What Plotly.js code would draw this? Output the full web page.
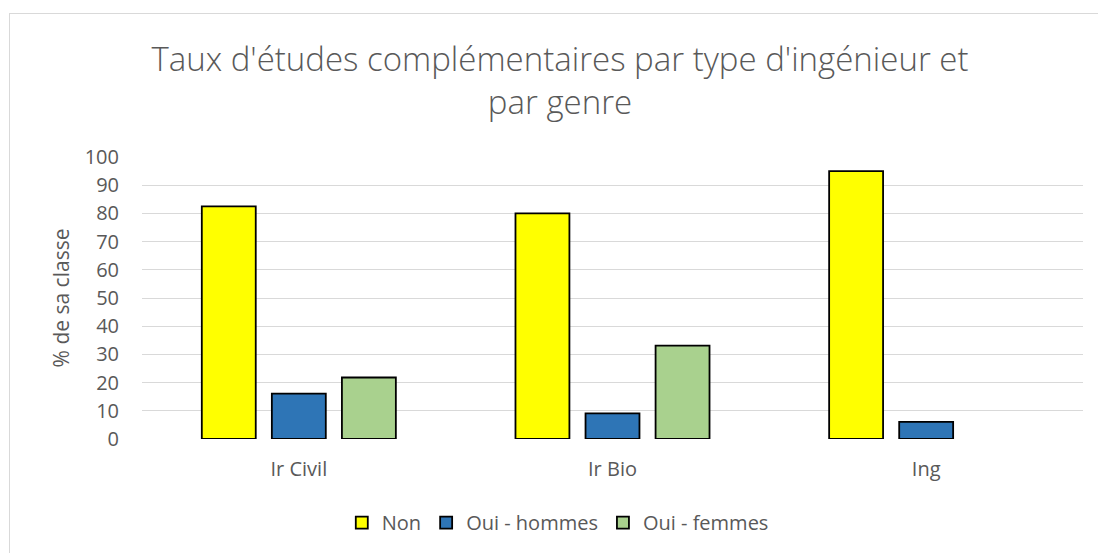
<!DOCTYPE html>
<html>
<head>
<meta charset="utf-8">
<script src="https://cdn.plot.ly/plotly-3.0.1.min.js"></script>
<style>
  html, body { margin: 0; padding: 0; background: #ffffff; }
  #wrap { position: relative; width: 1098px; height: 553px; overflow: hidden; }
  #chart { position: absolute; left: 0; top: 0; width: 1098px; height: 553px; }
  #frame { position: absolute; left: 9px; top: 13px; width: 1100px; height: 560px;
           border: 1.5px solid #d9d9d9; pointer-events: none; }
</style>
</head>
<body>
<div id="wrap">
  <div id="chart"></div>
  <div id="frame"></div>
</div>
<script>
const categories = ["Ir Civil", "Ir Bio", "Ing"];
const seriesNames = ["Non", "Oui - hommes", "Oui - femmes"];
const nonValues = [82.5, 80.0, 95.0];
const ouiHommesValues = [16.1, 9.1, 6.1];
const ouiFemmesValues = [21.8, 33.1, null];
const seriesColors = ["#FFFF00", "#2E75B6", "#A9D18E"];
const yTickValues = [0, 10, 20, 30, 40, 50, 60, 70, 80, 90, 100];

const allValues = [nonValues, ouiHommesValues, ouiFemmesValues];
const fontFamily = "'Open Sans', 'Liberation Sans', sans-serif";

const traces = allValues.map((vals, i) => ({
  type: "bar",
  name: seriesNames[i],
  x: categories,
  y: vals,
  marker: { color: seriesColors[i], line: { color: "#000000", width: 1.8 } },
  hoverinfo: "x+y+name"
}));

const layout = {
  width: 1098,
  height: 553,
  paper_bgcolor: "#ffffff",
  plot_bgcolor: "#ffffff",
  margin: { l: 142, r: 15, t: 157, b: 114 },
  barmode: "group",
  bargap: 0.33,
  bargroupgap: 0.23,
  font: { family: fontFamily, color: "#595959" },
  title: {
    text: "Taux d'études complémentaires par type d'ingénieur et<br>par genre",
    font: { family: fontFamily, size: 33, color: "#595959", weight: 300 },
    x: 0.51, xanchor: "center", xref: "container",
    y: 0.872, yanchor: "top", yref: "container"
  },
  xaxis: {
    type: "category",
    showgrid: false,
    zeroline: false,
    showline: false,
    ticks: "",
    tickfont: { family: fontFamily, size: 20, color: "#595959" },
    ticklabelstandoff: 16
  },
  yaxis: {
    range: [0, 100],
    tickvals: yTickValues,
    ticktext: yTickValues.map(String),
    showgrid: true,
    gridcolor: "#d9d9d9",
    gridwidth: 1,
    zeroline: false,
    showline: false,
    ticks: "",
    ticklabelstandoff: 22,
    tickfont: { family: fontFamily, size: 20, color: "#595959" },
    title: {
      text: "% de sa classe",
      font: { family: fontFamily, size: 21, color: "#595959" },
      standoff: 9
    }
  },
  legend: {
    orientation: "h",
    xref: "container", yref: "container",
    x: 0.508, xanchor: "center",
    y: 0.055, yanchor: "middle",
    font: { family: fontFamily, size: 20, color: "#595959" },
    itemwidth: 30,
    traceorder: "normal"
  },
  showlegend: true
};

Plotly.newPlot("chart", traces, layout, { displayModeBar: false, staticPlot: true });
</script>
</body>
</html>
